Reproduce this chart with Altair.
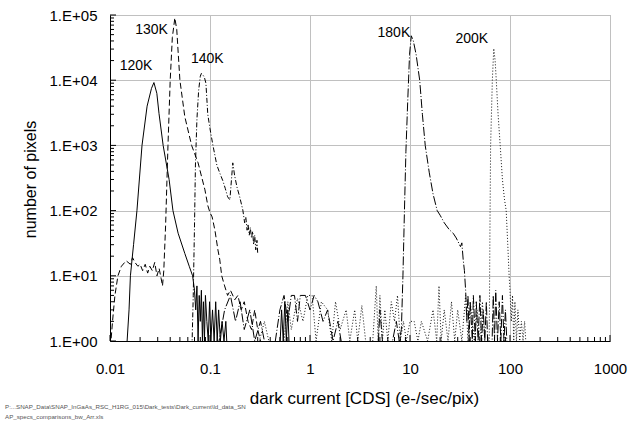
import altair as alt
import pandas as pd

# ---------------- data ----------------
x120 = [0.0147, 0.0155, 0.0160, 0.0172, 0.0186, 0.0209, 0.0235, 0.0260, 0.0275, 0.0294, 0.0309,
        0.0340, 0.0390, 0.0426, 0.0480, 0.0560, 0.0620, 0.0670, 0.0700, 0.0720, 0.0740, 0.0760,
        0.0780, 0.0800, 0.0820, 0.0840, 0.0860, 0.0880, 0.0900, 0.0930, 0.0960, 0.0990, 0.1020,
        0.1060, 0.1100, 0.1140, 0.1180, 0.1220, 0.1270, 0.1320, 0.1380, 0.1440, 0.1480,
        0.50, 0.52, 0.54, 0.56, 0.58, 0.60, 0.62]
y120 = [0.8, 3, 10, 30, 100, 1000, 4000, 7500, 9200, 6300, 3100,
        1000, 300, 100, 45, 22, 14, 10, 6, 3, 7, 1,
        5, 2, 6, 1, 4, 1, 5, 2, 1, 4, 1,
        3, 1, 4, 1, 3, 1, 2, 1, 2, 0.8,
        0.8, 3, 1, 4, 1, 3, 0.8]

x130 = [0.0101, 0.0106, 0.0112, 0.0120, 0.0130, 0.0145, 0.0160, 0.0168, 0.0178, 0.0190, 0.0200,
        0.0212, 0.0225, 0.0238, 0.0250, 0.0265, 0.0280, 0.0295, 0.0310, 0.0325, 0.0335, 0.0345,
        0.0360, 0.0380, 0.0400, 0.0420, 0.0445, 0.0465, 0.0500, 0.0560, 0.0655, 0.0760, 0.0890,
        0.0950, 0.1000, 0.1050, 0.1120, 0.1200, 0.1250, 0.1310, 0.1400, 0.1500, 0.1600, 0.1770,
        0.1900, 0.2050, 0.2200, 0.2400, 0.2600, 0.2800, 0.3000, 0.3200, 0.3400]
y130 = [0.8, 2, 5, 10, 14, 17, 15, 19, 16, 14, 15,
        12, 15, 11, 14, 12, 16, 10, 13, 9, 7, 12,
        60, 1000, 10000, 45000, 90000, 60000, 10000, 2750, 1000, 540, 208,
        120, 93, 80, 50, 25, 18, 10, 7, 5, 6, 4.3,
        5, 3, 4, 2, 1.5, 3, 1.5, 1, 0.8]

x140 = [0.0660, 0.0680, 0.0700, 0.0715, 0.0740, 0.0770, 0.0800, 0.0820, 0.0850, 0.0880, 0.0910,
        0.0950, 0.1000, 0.1070, 0.1170, 0.1250, 0.1340, 0.1420, 0.1500, 0.1580, 0.1640, 0.1690,
        0.1760, 0.1860, 0.1980, 0.2130, 0.2220, 0.2280, 0.2350, 0.2400, 0.2470, 0.2530, 0.2600,
        0.2670, 0.2730, 0.2800, 0.2870, 0.2950, 0.3000]
y140 = [0.8, 5, 60, 500, 2500, 7000, 11500, 12700, 12000, 11000, 9000,
        3000, 1800, 1000, 500, 380, 290, 220, 163, 146, 300, 540,
        350, 230, 163, 102, 65, 80, 50, 62, 42, 55, 38,
        48, 30, 42, 25, 35, 22]

x180 = [0.12, 0.14, 0.16, 0.18, 0.20, 0.22, 0.25, 0.28, 0.32, 0.36, 0.45, 0.50, 0.55, 0.60, 0.65,
        0.70, 0.75, 0.80, 0.90, 1.00, 1.10, 1.20, 1.35, 1.50, 1.70, 1.90, 2.10, 4.80, 5.00, 5.30,
        6.50, 7.30, 7.80, 8.20, 8.50, 8.80, 9.10, 9.50, 9.90, 10.3, 10.8, 11.5, 12.5, 13.3, 14.2,
        15.6, 17.0, 18.7, 20.0, 22.0, 24.7, 27.0, 29.0, 32.0, 33.0, 34.0, 35.0, 36.0, 37.0, 38.0,
        39.0, 40.0, 42.0, 43.0, 45.0, 46.0, 48.0, 50.0, 52.0, 54.0, 56.0, 58.0, 60.0, 66.0, 68.0,
        70.0, 72.0, 75.0, 78.0, 81.0, 84.0, 87.0, 90.0, 93.0, 95.0]
y180 = [0.8, 3, 5, 2, 4, 1.5, 3, 1, 2, 0.8, 1, 3, 5, 2, 5,
        5, 2, 5, 5, 3, 5, 4, 2, 3, 1, 2, 0.8, 0.8, 3, 1,
        0.8, 2, 1, 1.5, 10, 100, 800, 5000, 25000, 48000, 40000, 25000, 10000, 3000, 1000,
        380, 180, 100, 85, 65, 51, 45, 38, 28, 32, 18, 12, 6, 2, 5,
        1, 4, 1, 5, 1, 4, 1, 5, 1, 3, 1, 4, 0.8, 0.8, 5,
        1, 6, 1, 4, 1, 5, 1, 3, 1, 0.8]

x200 = [0.30, 0.35, 0.40, 0.55, 0.60, 0.65, 0.75, 0.85, 0.95, 1.05, 1.15, 1.30, 1.50, 1.65, 1.80,
        2.00, 2.30, 2.50, 2.80, 3.00, 3.30, 3.60, 4.20, 4.60, 4.80, 5.00, 5.30, 5.60, 6.00, 6.50,
        7.00, 7.50, 8.00, 8.60, 9.20, 10.0, 11.0, 12.0, 13.0, 15.0, 17.0, 18.5, 19.5, 20.5, 22.0,
        24.0, 26.0, 28.0, 30.0, 33.0, 36.0, 38.0, 40.0, 44.0, 47.0, 50.0, 53.0, 56.0, 60.0, 62.0,
        63.0, 64.0, 66.6, 68.8, 71.0, 72.9, 76.0, 79.8, 84.0, 88.0, 91.6, 95.0, 98.0, 100.0, 103.0,
        106.0, 109.0, 112.0, 116.0, 120.0, 125.0, 130.0, 135.0, 140.0, 145.0]
y200 = [0.8, 2, 0.8, 1, 4, 1.5, 4.5, 2, 5, 5, 1, 4, 3, 1, 4,
        1.5, 3, 1, 3, 1, 3.5, 1, 0.8, 7, 1, 5, 1, 3, 1, 4,
        2, 5, 1, 2, 1, 2, 2, 1, 2, 1, 3, 1, 7, 1, 3,
        1, 4, 1, 3, 1, 5, 1, 4, 1, 3, 1, 4, 1, 0.8, 1,
        50, 1000, 10000, 30600, 20000, 10000, 3000, 1000, 300, 150, 100, 30, 10, 6, 2,
        5, 1, 4, 1, 3, 1, 2, 1, 2, 0.8]

label_text = ["120K", "130K", "140K", "180K", "200K"]
label_x = [0.0182, 0.0260, 0.0940, 6.90, 41.5]
label_y = [16400, 58300, 21000, 52500, 42500]

x_tick_labels = [0.01, 0.1, 1, 10, 100, 1000]
y_tick_labels = [1, 10, 100, 1000, 10000, 100000]

footnote1 = r"P:...SNAP_Data\SNAP_InGaAs_RSC_H1RG_015\Dark_tests\Dark_current\ld_data_SN"
footnote2 = "AP_specs_comparisons_bw_Arr.xls"

# ---------------- chart ----------------
FONT = "Liberation Sans"
W, H = 500, 326
xscale = alt.Scale(type="log", domain=[0.01, 1000])
yscale = alt.Scale(type="log", domain=[1, 100000])

x_axis = alt.Axis(values=x_tick_labels, format="~g", grid=True, gridColor="#c0c0c0",
                  ticks=False, tickSize=0, domainColor="black", labelFont=FONT,
                  labelFontSize=15, labelColor="black", labelPadding=20, labelFlush=False,
                  title="dark current [CDS] (e-/sec/pix)", titleFont=FONT, titleFontSize=17,
                  titleFontWeight="normal", titleColor="black", titleX=254, titleY=57,
                  titleAlign="center", titleBaseline="middle")
y_axis = alt.Axis(values=y_tick_labels, labelExpr="'1.E+0' + round(log(datum.value)/LN10)",
                  grid=True, gridColor="#c0c0c0", ticks=False, tickSize=0,
                  domainColor="black", labelFont=FONT, labelFontSize=15, labelColor="black",
                  labelPadding=13, labelFlush=False,
                  title="number of pixels", titleFont=FONT, titleFontSize=16,
                  titleFontWeight="normal", titleColor="black", titleX=-80, titleY=164,
                  titleAlign="center", titleBaseline="middle")


def X(field):
    return alt.X(field, scale=xscale, axis=x_axis)


def Y(field):
    return alt.Y(field, scale=yscale, axis=y_axis)


def curve(xs, ys, dash, color="black"):
    df = pd.DataFrame({"x": xs, "y": ys, "i": list(range(len(xs)))})
    kw = dict(clip=True, color=color, strokeWidth=1)
    if dash:
        kw["strokeDash"] = dash
    return alt.Chart(df).mark_line(**kw).encode(x=X("x:Q"), y=Y("y:Q"), order="i:Q")


l120 = curve(x120, y120, None)
l130 = curve(x130, y130, [6, 3])
l140 = curve(x140, y140, [5, 2, 1, 2])
l180 = curve(x180, y180, [9, 2, 1, 2])
l200 = curve(x200, y200, [1, 2], color="#111111")

# minor / major axis ticks pointing into the plot
y_major = [10 ** k for k in range(0, 6)]
y_minor = [m * 10 ** k for k in range(0, 5) for m in range(2, 10)]
x_major = [10.0 ** k for k in range(-2, 4)]
x_minor = [m * 10.0 ** k for k in range(-2, 3) for m in range(2, 10)]


def yticks(vals, length):
    return alt.Chart(pd.DataFrame({"y": vals})).mark_rule(color="black", strokeWidth=1).encode(
        y=Y("y:Q"), x=alt.value(0), x2=alt.value(length))


def xticks(vals, length):
    return alt.Chart(pd.DataFrame({"x": vals})).mark_rule(color="black", strokeWidth=1).encode(
        x=X("x:Q"), y=alt.value(H), y2=alt.value(H - length))


labels = alt.Chart(pd.DataFrame({"t": label_text, "x": label_x, "y": label_y})).mark_text(
    font=FONT, fontSize=14, color="black", align="center", baseline="middle").encode(
    x=X("x:Q"), y=Y("y:Q"), text="t:N")

one = pd.DataFrame({"a": [0]})
foot1 = alt.Chart(one).mark_text(text=footnote1, font=FONT, fontSize=6.2, color="#555555",
                                 align="left", baseline="middle").encode(
    x=alt.value(-105), y=alt.value(392))
foot2 = alt.Chart(one).mark_text(text=footnote2, font=FONT, fontSize=6.2, color="#555555",
                                 align="left", baseline="middle").encode(
    x=alt.value(-105), y=alt.value(402))

chart = alt.layer(
    l120, l130, l140, l180, l200,
    yticks(y_major, 6), yticks(y_minor, 4), xticks(x_major, 6), xticks(x_minor, 4),
    labels, foot1, foot2,
).properties(
    width=W, height=H,
    autosize=alt.AutoSizeParams(type="none"),
    padding={"left": 110, "top": 15, "right": 19, "bottom": 84},
    background="white",
).configure_view(stroke="#a0a0a0", strokeWidth=1)

chart.save("out.html", embed_options={"renderer": "svg", "actions": False})
